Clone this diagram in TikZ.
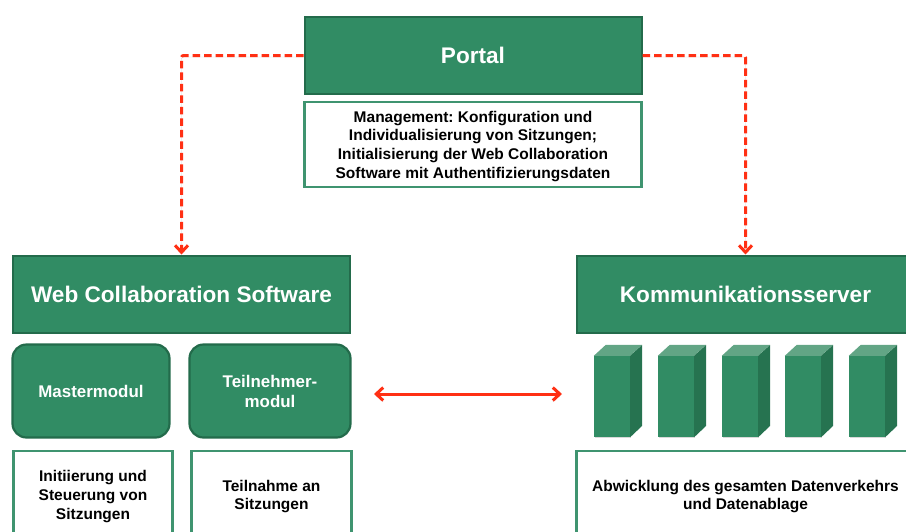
\documentclass[tikz,border=0pt]{standalone}
\usepackage{fontspec}
\setmainfont{Liberation Sans}
\usetikzlibrary{arrows.meta,shadows}
\definecolor{boxgreen}{HTML}{318C64}
\definecolor{boxdark}{HTML}{236B4B}
\definecolor{framegreen}{HTML}{3F9470}
\definecolor{topgreen}{HTML}{62A585}
\definecolor{sidegreen}{HTML}{267350}
\definecolor{linered}{HTML}{FF3014}
\frenchspacing
\begin{document}
\begin{tikzpicture}[x=1pt,y=-1pt,>={Straight Barb[length=7pt,width=13pt]},
headbox/.style={rectangle, draw=boxdark, fill=boxgreen, line width=2pt, text=white, font=\bfseries\fontsize{22.6}{26}\selectfont, inner sep=0pt, minimum height=77pt, text depth=-2.5pt},
modbox/.style={rectangle, rounded corners=14pt, draw=boxdark, fill=boxgreen, line width=2.2pt, text=white, align=center, font=\bfseries\fontsize{16.9}{20}\selectfont, inner sep=0pt, minimum height=93pt, text depth=-2.5pt},
notebox/.style={rectangle, draw=framegreen, fill=white, line width=2.5pt, align=center, font=\bfseries\fontsize{15.5}{18.7}\selectfont, inner sep=0pt, text depth=-1.7pt},
srvbox/.style={rectangle, fill=boxgreen, inner sep=0pt, minimum width=36pt, minimum height=81pt, drop shadow={shadow xshift=0.5pt,shadow yshift=-1pt,opacity=0.3}},
redline/.style={line width=3pt, draw=linered, preaction={draw=black, opacity=0.18, transform canvas={yshift=-1.5pt}}},
reddash/.style={redline, rounded corners=2pt, dash pattern=on 7.5pt off 4pt}]
\useasboundingbox (0,0) rectangle (906,531);

\node[headbox, minimum width=337pt] at (473,55.5) (portal) {Portal};
\node[notebox, minimum width=337pt, minimum height=85pt] at (473,144.5) (mgmt) {Management: Konfiguration und\\Individualisierung von Sitzungen;\\Initialisierung der Web Collaboration\\Software mit Authentifizierungsdaten};

\node[headbox, minimum width=337pt] at (181.5,294) (websw) {Web Collaboration Software};
\node[modbox, minimum width=157pt] at (91,391) (master) {Mastermodul};
\node[modbox, minimum width=161pt] at (270,391) (teil) {Teilnehmer-\\modul};
\node[notebox, minimum width=159pt, minimum height=88pt] at (93,495) (initnote) {Initiierung und\\Steuerung von\\Sitzungen};
\node[notebox, minimum width=160pt, minimum height=88pt] at (271.5,495) (teilnote) {Teilnahme an\\Sitzungen};

\node[headbox, minimum width=337pt] at (745.5,294) (komm) {Kommunikationsserver};
\node[notebox, minimum width=338pt, minimum height=88pt] at (745.5,495) (kommnote) {Abwicklung des gesamten Datenverkehrs\\und Datenablage};

% server blocks
\foreach \n/\x in {1/594,2/658,3/722,4/785,5/849} {
	\node[srvbox] at (\x+18,396.5) (srv\n) {};
	\fill[topgreen] (srv\n.north west) -- ++(12,-11) -- ++(36,0) -- (srv\n.north east) -- cycle;
	\fill[sidegreen] (srv\n.north east) -- ++(12,-11) -- ++(0,81) -- (srv\n.south east) -- cycle;
}

\coordinate (left end) at (374,394);
\coordinate (right end) at (562,394);

\draw[->] [reddash] (portal.west) -| (websw.north);
\draw[->] [reddash] (portal.east) -| (komm.north);
\draw[<->] [redline] (left end) -- (right end);
\end{tikzpicture}
\end{document}
